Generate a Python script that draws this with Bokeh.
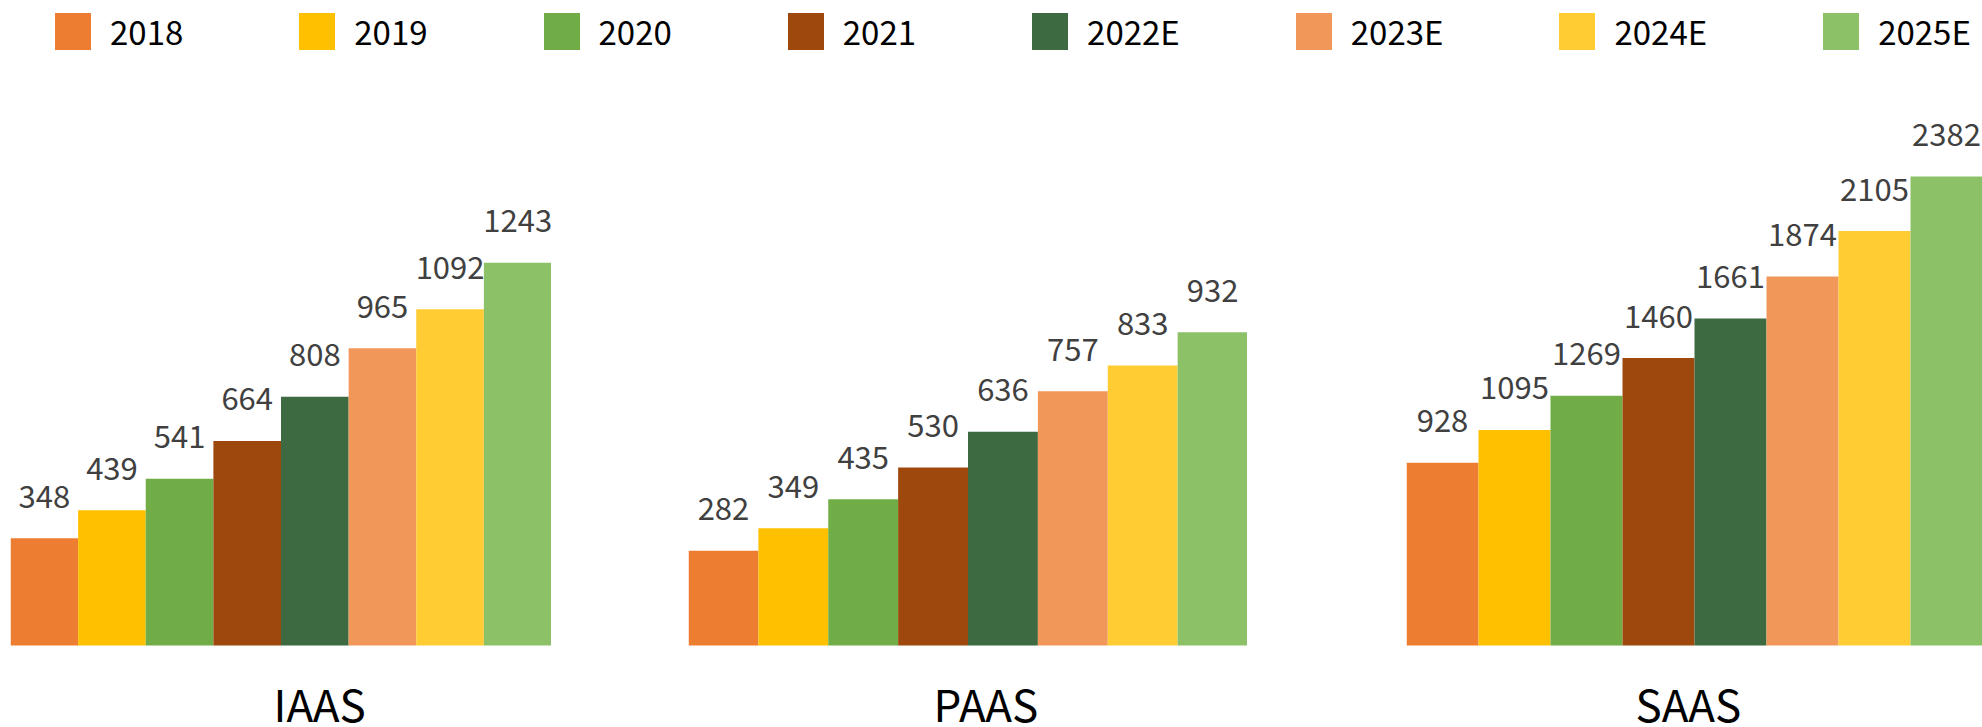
from bokeh.plotting import figure
from bokeh.models import ColumnDataSource, FactorRange, Range1d, Legend, LegendItem, Label
from bokeh.layouts import column, row
from bokeh.embed import file_html
from bokeh.resources import INLINE
from bokeh.core.properties import value

# ---- data ----
years = ["2018", "2019", "2020", "2021", "2022E", "2023E", "2024E", "2025E"]
groups = ["IAAS", "PAAS", "SAAS"]
iaas = [348, 439, 541, 664, 808, 965, 1092, 1243]
paas = [282, 349, 435, 530, 636, 757, 833, 932]
saas = [928, 1095, 1269, 1460, 1661, 1874, 2105, 2382]
colors = ["#ED7D31", "#FFC000", "#70AD47", "#9E480E", "#3D6A41", "#F1975A", "#FFCD33", "#8CC168"]

FONT = "Noto Sans CJK SC"
LEG_H = 60
ROW_H = 727 - LEG_H
BELOW = 82                  # px between bar baseline and bottom of the picture
ABOVE = ROW_H - BELOW       # px between top of the panel and bar baseline

def make_panel(name, vals, width, left_border, px_per_unit, label_offset):
    src = ColumnDataSource(dict(year=years, v=vals, c=colors, lab=[str(x) for x in vals]))
    p = figure(x_range=FactorRange(factors=years, range_padding=0),
               y_range=Range1d(-BELOW / px_per_unit, ABOVE / px_per_unit),
               width=width, height=ROW_H, output_backend="svg", toolbar_location=None,
               min_border_left=left_border, min_border_right=0, min_border_top=0,
               min_border_bottom=0)
    p.vbar(x="year", top="v", width=1.0, fill_color="c", line_color=None, source=src)
    p.text(x="year", y="v", text="lab", source=src, text_align="center",
           text_baseline="alphabetic", y_offset=-42, text_font=value(FONT),
           text_font_size="31px", text_color="#404040")
    p.xaxis.visible = False
    p.yaxis.visible = False
    p.xgrid.grid_line_color = None
    p.ygrid.grid_line_color = None
    p.outline_line_color = None
    lab = Label(x=0, y=0, x_units="data", y_units="data", text=name,
                x_offset=label_offset, y_offset=-57, text_align="left",
                text_baseline="alphabetic", text_font=FONT, text_font_size="44px",
                text_color="#000000")
    p.add_layout(lab)
    return p

p1 = make_panel(groups[0], iaas, 551, 10, 0.308, 263)
p2 = make_panel(groups[1], paas, 696, 137, 0.336, 245)
p3 = make_panel(groups[2], saas, 735, 159, 0.1969, 229)

# ---- legend strip (zero-size bars outside the visible y range; only the legend shows) ----
lsrc = ColumnDataSource(dict(year=years, v=iaas, c=colors))
lg = figure(width=1982, height=LEG_H, output_backend="svg", toolbar_location=None,
            x_range=FactorRange(factors=years), y_range=Range1d(-2, -1),
            min_border_left=50, min_border_top=7, min_border_right=0, min_border_bottom=0)
lg.axis.visible = False
lg.grid.grid_line_color = None
lg.outline_line_color = None
lr = lg.vbar(x="year", top="v", bottom="v", width=0, fill_color="c", line_color=None,
             source=lsrc)
items = [LegendItem(label=yr, renderers=[lr], index=i) for i, yr in enumerate(years)]
legend = Legend(items=items, orientation="horizontal", location="top_left",
                margin=0, padding=0, spacing=111, label_standoff=15,
                glyph_width=45, glyph_height=46,
                label_text_font=FONT, label_text_font_size="33px",
                label_text_color="#000000", border_line_color=None,
                background_fill_alpha=0)
lg.add_layout(legend)

layout = column(lg, row(p1, p2, p3, spacing=0), spacing=0)
open("out.html", "w").write(file_html(layout, INLINE))
